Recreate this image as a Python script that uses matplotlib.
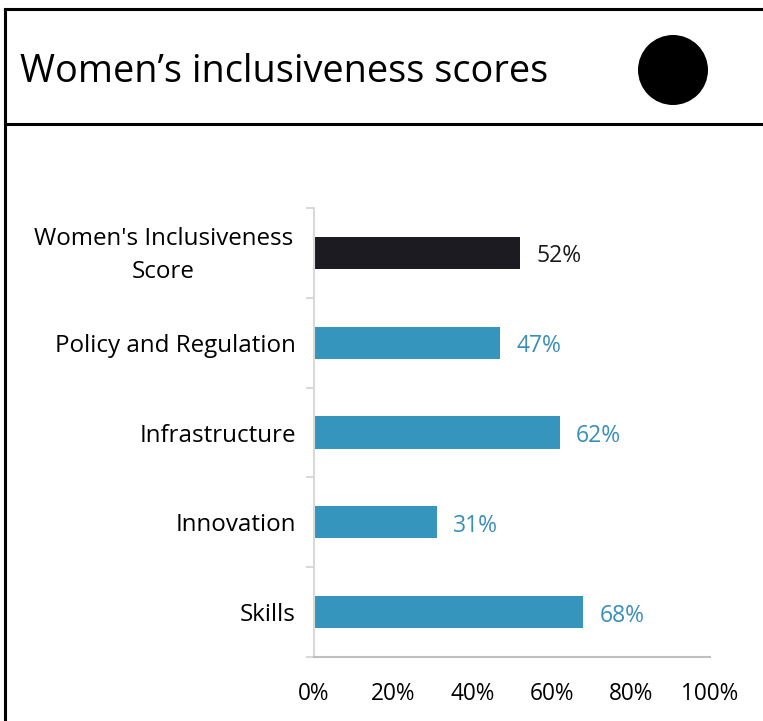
import matplotlib
matplotlib.use("Agg")
import matplotlib.pyplot as plt
import matplotlib.transforms as mtransforms
from matplotlib.lines import Line2D
from matplotlib.patches import Ellipse

plt.rcParams['font.family'] = ['Open Sans', 'DejaVu Sans']

# Scores, top to bottom
categories = ["Women's Inclusiveness\nScore", "Policy and Regulation", "Infrastructure", "Innovation", "Skills"]
scores = [52, 47, 62, 31, 68]
bar_colors = ["#1d1b22", "#3595bd", "#3595bd", "#3595bd", "#3595bd"]
label_colors = ["#1a1a1a", "#3a8fb8", "#3a8fb8", "#3a8fb8", "#3a8fb8"]
xticks = [0, 20, 40, 60, 80, 100]

W, H = 763, 721
fig = plt.figure(figsize=(W / 100, H / 100), dpi=100)

# header frame
def fx(px):
    return px / W

def fy(py):
    return 1 - py / H

frame_kw = dict(color="black", linewidth=2.2, transform=fig.transFigure, solid_capstyle="projecting")
fig.add_artist(Line2D([fx(4.5), fx(4.5)], [fy(9), 0], **frame_kw))
fig.add_artist(Line2D([fx(4.5), 1], [fy(9), fy(9)], **frame_kw))
fig.add_artist(Line2D([fx(4.5), 1], [fy(124), fy(124)], **frame_kw))
fig.add_artist(Ellipse((fx(673), fy(70)), 70 / W, 70 / H, transform=fig.transFigure,
                       facecolor="black", edgecolor="none"))
fig.text(fx(20), fy(72), "Women\u2019s inclusiveness scores", fontsize=27.3, va="center", ha="left",
         color="black")

ax = fig.add_axes([fx(314), fy(657), (710 - 314) / W, (657 - 208) / H])
ypos = list(range(len(categories)))
ax.barh(ypos, scores, height=0.36, color=bar_colors)
for y, v, c in zip(ypos, scores, label_colors):
    ax.annotate(f"{v}%", (v, y), xytext=(12, -2.5), textcoords="offset points",
                va="center", ha="left", fontsize=16.5, color=c)

ax.set_xlim(0, 100)
ax.set_ylim(len(categories) - 0.5, -0.5)
ax.set_yticks(ypos)
ax.set_yticklabels(categories, fontsize=17.4, multialignment="center", linespacing=1.5)
ax.set_yticks([i - 0.5 for i in range(len(categories) + 1)], minor=True)
ax.tick_params(axis="y", which="major", length=0, pad=13)
ax.tick_params(axis="y", which="minor", length=6, width=1.5, color="#d9d9d9")
ax.set_xticks(xticks)
ax.set_xticklabels([f"{t}%" for t in xticks], fontsize=16.3)
ax.tick_params(axis="x", length=0, pad=18)

# nudge the two-line label up a little
lab = ax.get_yticklabels()[0]
lab.set_transform(lab.get_transform() + mtransforms.ScaledTranslation(-0.03, 0.05, fig.dpi_scale_trans))

for s in ["top", "right"]:
    ax.spines[s].set_visible(False)
ax.spines["left"].set_color("#d9d9d9")
ax.spines["left"].set_linewidth(1.5)
ax.spines["bottom"].set_color("#bfbfbf")
ax.spines["bottom"].set_linewidth(1.5)

fig.savefig("out.png", dpi=100)
